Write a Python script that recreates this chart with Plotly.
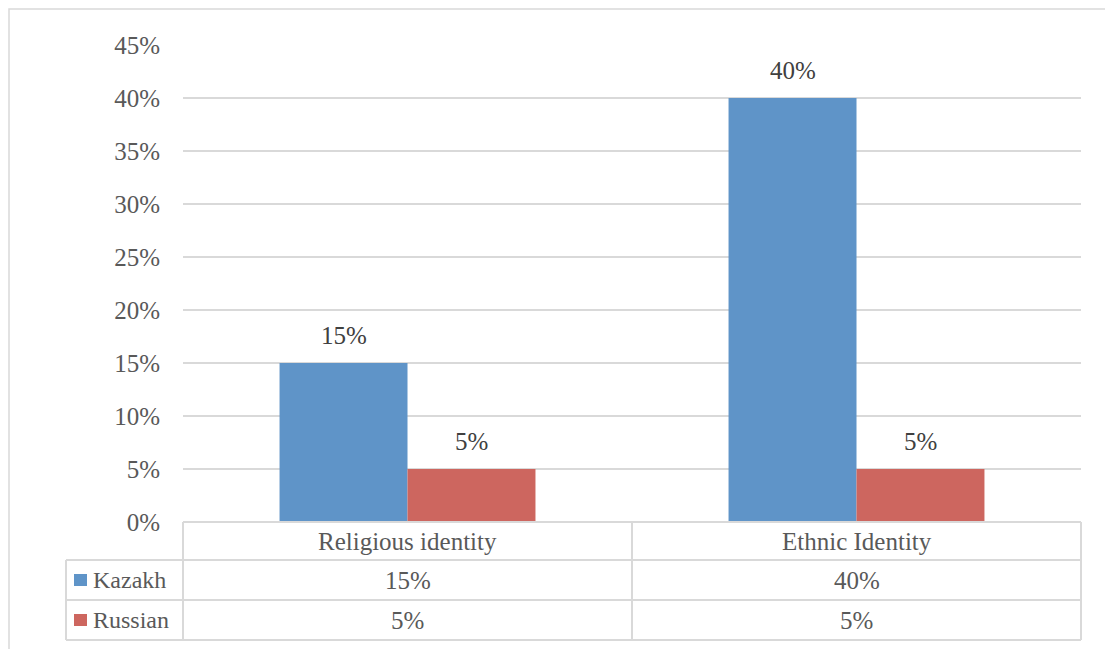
import plotly.graph_objects as go

# ---- data ----
categories = ["Religious identity", "Ethnic Identity"]
series_names = ["Kazakh", "Russian"]
kazakh = [0.15, 0.40]
russian = [0.05, 0.05]
y_ticks = [0, 0.05, 0.10, 0.15, 0.20, 0.25, 0.30, 0.35, 0.40, 0.45]

# ---- style ----
W, H = 1105, 649
FONT = "Liberation Serif"
TXT = "#595959"
LBL = "#404040"
GRID = "#d9d9d9"
colors = ["#5F94C8", "#CD665F"]
FS = 25

def px(x):
    return x / W

def py(y):
    return 1 - y / H

plot_l, plot_r, plot_t, plot_b = 183, 1081, 45, 522
row_lines = [522, 560, 600, 640]
col_left = 66
col_mid = 632

bar_w = 0.285
series = [kazakh, russian]
offsets = [-bar_w, 0]
xs = list(range(len(categories)))

fig = go.Figure()
for name, vals, col, off in zip(series_names, series, colors, offsets):
    fig.add_trace(go.Bar(
        x=xs, y=vals, name=name, width=bar_w, offset=off,
        marker=dict(color=col, line=dict(width=0)),
        showlegend=False,
    ))

annotations = []
# data labels above bars
for vals, off in zip(series, offsets):
    for i, v in enumerate(vals):
        annotations.append(dict(
            x=i + off + bar_w / 2, y=v, xref="x", yref="y",
            text=f"{round(v*100)}%", showarrow=False, yanchor="bottom",
            yshift=12, font=dict(family=FONT, size=FS, color=LBL)))

# table header (category names)
cat_w = (plot_r - plot_l) / len(categories)
for i, c in enumerate(categories):
    cx = plot_l + cat_w * (i + 0.5)
    annotations.append(dict(
        x=px(cx), y=py((row_lines[0] + row_lines[1]) / 2), xref="paper", yref="paper",
        text=c, showarrow=False, xanchor="center", yanchor="middle",
        font=dict(family=FONT, size=FS, color=TXT)))

# table rows
shapes = []
for r, (name, vals, col) in enumerate(zip(series_names, series, colors)):
    y0, y1 = row_lines[r + 1], row_lines[r + 2]
    ymid = (y0 + y1) / 2
    annotations.append(dict(
        x=px(91), y=py(ymid), xref="paper", yref="paper", text=name,
        showarrow=False, xanchor="left", yanchor="middle",
        font=dict(family=FONT, size=FS - 1, color=TXT)))
    shapes.append(dict(type="rect", xref="paper", yref="paper",
                       x0=px(74), x1=px(87), y0=py(ymid - 6), y1=py(ymid + 6),
                       fillcolor=col, line=dict(width=0)))
    for i, v in enumerate(vals):
        cx = plot_l + cat_w * (i + 0.5)
        annotations.append(dict(
            x=px(cx), y=py(ymid), xref="paper", yref="paper",
            text=f"{round(v*100)}%", showarrow=False, xanchor="center", yanchor="middle",
            font=dict(family=FONT, size=FS, color=TXT)))

def line(x0, y0, x1, y1, w=2):
    shapes.append(dict(type="line", xref="paper", yref="paper",
                       x0=px(x0), y0=py(y0), x1=px(x1), y1=py(y1),
                       line=dict(color=GRID, width=w)))

# table grid
line(plot_l, row_lines[0], plot_r, row_lines[0])
for yy in row_lines[1:]:
    line(col_left, yy, plot_r, yy)
line(col_left, row_lines[1], col_left, row_lines[-1])
for xx in [plot_l, col_mid, plot_r]:
    line(xx, row_lines[0], xx, row_lines[-1])

# outer chart border
shapes.append(dict(type="rect", xref="paper", yref="paper",
                   x0=px(9), y0=py(9), x1=px(W + 20), y1=py(H + 20),
                   line=dict(color=GRID, width=1.5), fillcolor="rgba(0,0,0,0)"))

fig.update_layout(
    width=W, height=H, autosize=False,
    margin=dict(l=0, r=0, t=0, b=0, pad=0, autoexpand=False),
    paper_bgcolor="white", plot_bgcolor="white",
    barmode="overlay", showlegend=False,
    annotations=annotations, shapes=shapes,
    xaxis=dict(domain=[px(plot_l), px(plot_r)], range=[-0.5, len(categories) - 0.5],
               showticklabels=False, showgrid=False, zeroline=False, showline=False,
               automargin=False, fixedrange=True),
    yaxis=dict(domain=[py(plot_b), py(plot_t)], range=[0, 0.45],
               tickvals=y_ticks, tickformat=".0%",
               showgrid=True, gridcolor=GRID, gridwidth=1.5,
               zeroline=False, showline=False, ticks="",
               ticklabelstandoff=22, automargin=False,
               tickfont=dict(family=FONT, size=FS, color=TXT), fixedrange=True),
    font=dict(family=FONT, color=TXT),
)

fig.write_html("out.html")
